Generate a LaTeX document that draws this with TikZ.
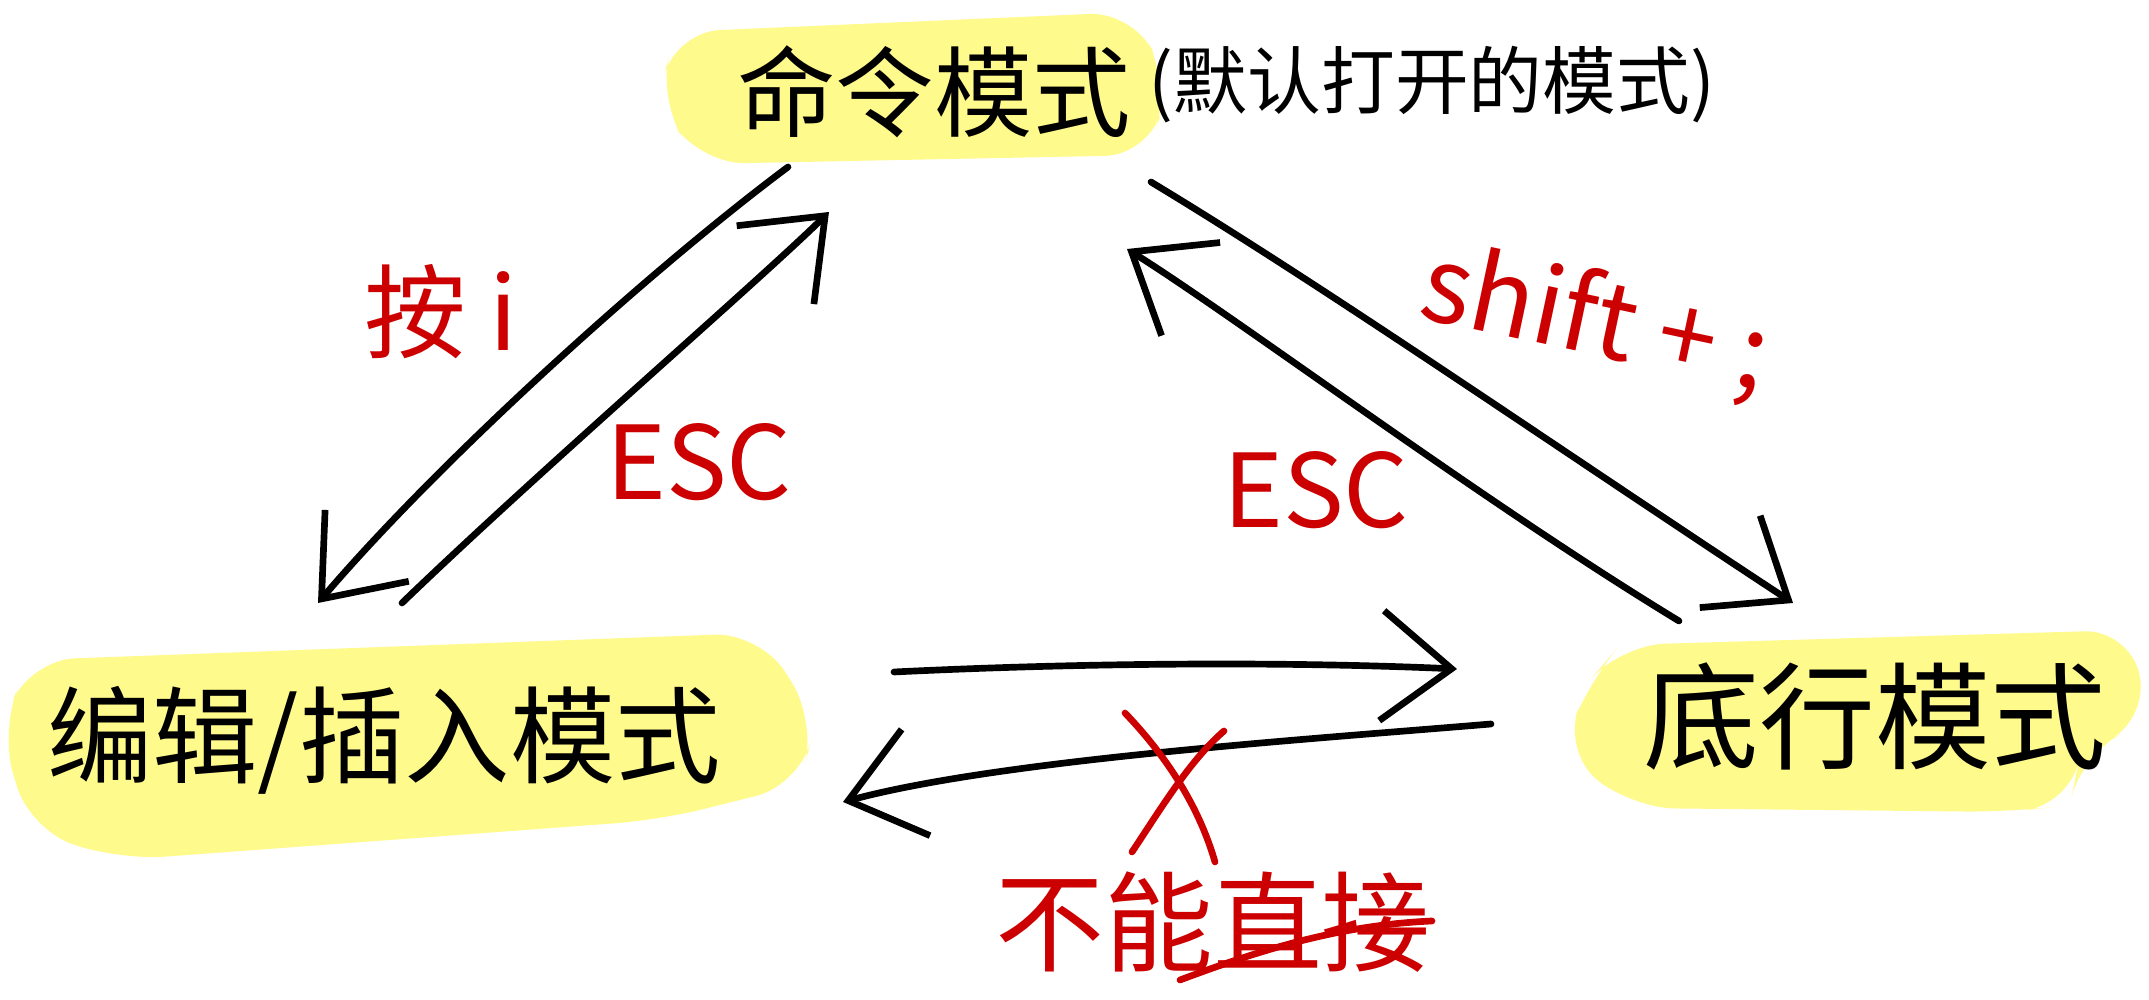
\documentclass[tikz,border=0pt]{standalone}
\usepackage{fontspec}
\setmainfont{Noto Sans CJK SC}
\usetikzlibrary{arrows.meta}
\definecolor{hl}{RGB}{255,250,140}
\definecolor{pen}{RGB}{204,0,0}
\begin{document}
\begin{tikzpicture}[x=1cm,y=-1cm,line cap=round,line join=round,
  conn/.style={line width=1.9pt,-{Straight Barb[length=7mm,width=11mm,line width=1.9pt]}},
  blob/.style={fill=hl,rounded corners=0.45cm},
  modetxt/.style={inner sep=0pt,text=black},
  redtxt/.style={inner sep=0pt,text=pen},
  redline/.style={draw=pen,line width=1.9pt}]
\useasboundingbox[fill=white] (0,0) rectangle (21.49,10);
% highlight blobs
\fill[blob] (6.75,0.32) -- (11.35,0.12) -- (11.68,0.85) -- (11.5,1.55) -- (7.0,1.64) -- (6.58,1.0) -- cycle;
\fill[blob] (0.3,6.6) -- (7.6,6.33) -- (8.16,7.2) -- (8.0,7.85) -- (6.6,8.2) -- (1.2,8.6) -- (0.3,8.3) -- (0,7.3) -- cycle;
\fill[blob] (16.2,6.45) -- (21.3,6.3) -- (21.49,7.2) -- (20.8,7.55) -- (20.7,8.05) -- (20.1,8.12) -- (16.3,8.08) -- (15.62,7.5) -- (15.9,6.8) -- cycle;
% mode nodes
\node[modetxt,font=\fontsize{28}{30}\selectfont] (cmd) at (9.34,0.92) {命令模式};
\node[modetxt,font=\fontsize{21}{23}\selectfont] (note) at (14.32,0.85) {(默认打开的模式)};
\node[modetxt,font=\fontsize{30}{32}\selectfont] (edit) at (3.84,7.4) {编辑/插入模式};
\node[modetxt,font=\fontsize{33}{35}\selectfont] (bottom) at (18.75,7.16) {底行模式};
% labels
\node[redtxt,font=\fontsize{29}{31}\selectfont] (lblI) at (4.41,3.12) {按 i};
\node[redtxt,font=\fontsize{29}{31}\selectfont] (lblEscA) at (6.99,4.62) {ESC};
\node[redtxt,font=\fontsize{30}{32}\selectfont,rotate=-12] (lblShift) at (15.95,3.22) {shift + ;};
\node[redtxt,font=\fontsize{29}{31}\selectfont] (lblEscB) at (13.16,4.9) {ESC};
\node[redtxt,font=\fontsize{31}{33}\selectfont] (lblNo) at (12.13,9.22) {不能直接};
% connector end points
\coordinate (a1s) at (7.88,1.67);
\coordinate (a1e) at (3.18,6.03);
\coordinate (a2s) at (4.02,6.03);
\coordinate (a2e) at (8.29,2.12);
\coordinate (a3s) at (11.51,1.82);
\coordinate (a3e) at (17.93,6.03);
\coordinate (a4s) at (16.79,6.21);
\coordinate (a4e) at (11.27,2.49);
\coordinate (a5s) at (8.94,6.72);
\coordinate (a5e) at (14.57,6.69);
\coordinate (a6s) at (14.91,7.24);
\coordinate (a6e) at (8.43,8.02);
% connectors
\draw[conn] (a1s) .. controls (6.5,2.7) and (4.4,4.6) .. (a1e);
\draw[conn] (a2s) .. controls (5.4,4.7) and (7.6,2.8) .. (a2e);
\draw[conn] (a3s) .. controls (13.3,2.9) and (15.6,4.5) .. (a3e);
\draw[conn] (a4s) .. controls (14.8,5.0) and (12.4,3.2) .. (a4e);
\draw[conn] (a5s) .. controls (11,6.62) and (13,6.62) .. (a5e);
\draw[conn] (a6s) .. controls (13,7.4) and (10,7.6) .. (a6e);
% red cross over the horizontal arrows
\coordinate (x1s) at (11.25,7.13);
\coordinate (x1e) at (12.15,8.62);
\coordinate (x2s) at (12.24,7.31);
\coordinate (x2e) at (11.32,8.52);
\draw[redline] (x1s) .. controls (11.7,7.6) and (12.0,8.1) .. (x1e);
\draw[redline] (x2s) .. controls (11.9,7.6) and (11.6,8.1) .. (x2e);
% stroke through the label
\coordinate (s1) at (11.8,9.8);
\coordinate (s2) at (14.32,9.21);
\draw[redline] (s1) .. controls (12.6,9.5) and (13.4,9.25) .. (s2);
\end{tikzpicture}
\end{document}
